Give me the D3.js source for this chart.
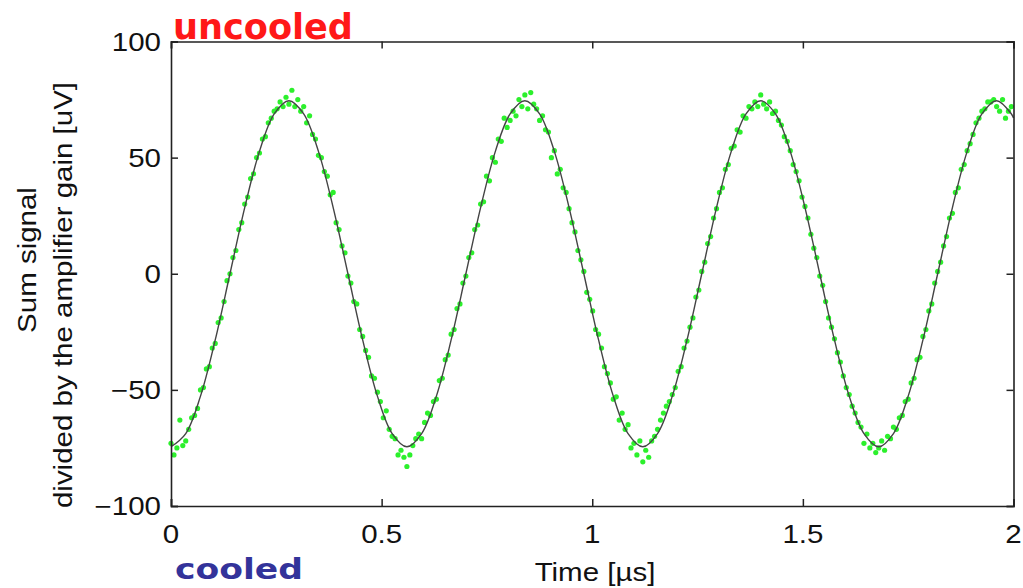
<!DOCTYPE html>
<html><head><meta charset="utf-8">
<script src="https://cdn.jsdelivr.net/npm/d3@7"></script>
<style>body{margin:0;background:#fff}svg{display:block}</style>
</head><body><svg id="c" width="1023" height="588"></svg>
<script>
// ---- data ----
const xTicks = [0, 0.5, 1, 1.5, 2];
const xTickLabels = ["0", "0.5", "1", "1.5", "2"];
const yTicks = [-100, -50, 0, 50, 100];
const yTickLabels = ["\u2212100", "\u221250", "0", "50", "100"];

const fitTime = [0,0.035,0.07,0.105,0.14,0.175,0.21,0.245,0.28,0.315,0.35,0.385,0.42,0.455,0.49,0.525,
0.56,0.595,0.63,0.665,0.7,0.735,0.77,0.805,0.84,0.875,0.91,0.945,0.98,1.015,1.05,1.085,
1.12,1.155,1.19,1.225,1.26,1.295,1.33,1.365,1.4,1.435,1.47,1.505,1.54,1.575,1.61,1.645,
1.68,1.715,1.75,1.785,1.82,1.855,1.89,1.925,1.96,1.995,2.0];
const fitSignal = [-74.5,-68.8,-52.7,-28.5,0,28.5,52.7,68.8,74.5,68.8,52.7,28.5,0,-28.5,-52.7,-68.8,
-74.5,-68.8,-52.7,-28.5,0,28.5,52.7,68.8,74.5,68.8,52.7,28.5,0,-28.5,-52.7,-68.8,
-74.5,-68.8,-52.7,-28.5,0,28.5,52.7,68.8,74.5,68.8,52.7,28.5,0,-28.5,-52.7,-68.8,
-74.5,-68.8,-52.7,-28.5,0,28.5,52.7,68.8,74.5,68.8,67.1];

const dotTime = [0,0.007,0.014,0.021,0.028,0.035,0.042,0.049,0.056,0.063,0.07,0.077,0.084,0.091,0.098,0.105,0.112,0.119,0.126,0.133,
0.14,0.147,0.154,0.161,0.168,0.175,0.182,0.189,0.196,0.203,0.21,0.217,0.224,0.231,0.238,0.245,0.252,0.259,0.266,0.273,
0.28,0.287,0.294,0.301,0.308,0.315,0.322,0.329,0.336,0.343,0.35,0.357,0.364,0.371,0.378,0.385,0.392,0.399,0.406,0.413,
0.42,0.427,0.434,0.441,0.448,0.455,0.462,0.469,0.476,0.483,0.49,0.497,0.504,0.511,0.518,0.525,0.532,0.539,0.546,0.553,
0.56,0.567,0.574,0.581,0.588,0.595,0.602,0.609,0.616,0.623,0.63,0.637,0.644,0.651,0.658,0.665,0.672,0.679,0.686,0.693,
0.7,0.707,0.714,0.721,0.728,0.735,0.742,0.749,0.756,0.763,0.77,0.777,0.784,0.791,0.798,0.805,0.812,0.819,0.826,0.833,
0.84,0.847,0.854,0.861,0.868,0.875,0.882,0.889,0.896,0.903,0.91,0.917,0.924,0.931,0.938,0.945,0.952,0.959,0.966,0.973,
0.98,0.987,0.994,1.001,1.008,1.015,1.022,1.029,1.036,1.043,1.05,1.057,1.064,1.071,1.078,1.085,1.092,1.099,1.106,1.113,
1.12,1.127,1.134,1.141,1.148,1.155,1.162,1.169,1.176,1.183,1.19,1.197,1.204,1.211,1.218,1.225,1.232,1.239,1.246,1.253,
1.26,1.267,1.274,1.281,1.288,1.295,1.302,1.309,1.316,1.323,1.33,1.337,1.344,1.351,1.358,1.365,1.372,1.379,1.386,1.393,
1.4,1.407,1.414,1.421,1.428,1.435,1.442,1.449,1.456,1.463,1.47,1.477,1.484,1.491,1.498,1.505,1.512,1.519,1.526,1.533,
1.54,1.547,1.554,1.561,1.568,1.575,1.582,1.589,1.596,1.603,1.61,1.617,1.624,1.631,1.638,1.645,1.652,1.659,1.666,1.673,
1.68,1.687,1.694,1.701,1.708,1.715,1.722,1.729,1.736,1.743,1.75,1.757,1.764,1.771,1.778,1.785,1.792,1.799,1.806,1.813,
1.82,1.827,1.834,1.841,1.848,1.855,1.862,1.869,1.876,1.883,1.89,1.897,1.904,1.911,1.918,1.925,1.932,1.939,1.946,1.953,
1.96,1.967,1.974,1.981,1.988,1.995];
const dotSignal = [-73,-78,-75,-63,-74,-72,-67,-62,-61,-58,-50,-49,-41,-40,-32,-30,-21,-19,-12,-3,
0,7,10,19,22,30,33,41,43,50,52,58,59,65,67,70,71,74,72,76,
73,79,72,75,70,72,65,68,60,58,51,50,44,42,34,35,22,19,12,9,
-1,-4,-12,-13,-24,-27,-33,-36,-44,-45,-51,-55,-62,-59,-67,-70,-71,-78,-76,-79,
-83,-78,-74,-71,-69,-71,-64,-60,-61,-55,-54,-46,-45,-37,-35,-26,-24,-15,-13,-4,
-1,7,9,19,21,30,31,42,40,50,48,58,57,67,63,66,70,68,75,72,
77,71,78,73,71,66,68,62,61,50,53,43,45,37,35,28,22,18,10,6,
1,-8,-11,-16,-24,-26,-32,-40,-43,-47,-54,-53,-63,-60,-67,-65,-75,-73,-78,-72,
-81,-76,-79,-72,-70,-67,-63,-60,-57,-55,-52,-49,-42,-40,-32,-29,-23,-19,-10,-7,
1,5,13,16,24,28,35,37,45,47,54,55,62,61,68,67,72,71,74,72,
77,73,71,74,69,70,66,64,59,57,53,47,44,40,33,29,24,17,11,7,
-1,-5,-12,-19,-23,-28,-34,-38,-44,-49,-52,-57,-60,-64,-66,-73,-69,-75,-73,-77,
-75,-72,-76,-70,-71,-66,-67,-62,-61,-55,-54,-47,-45,-37,-36,-27,-24,-16,-13,-4,
1,5,12,16,24,26,35,37,45,47,53,56,60,65,67,70,71,74,74,75,
72,70,75,67,70,72];

const xTitle = "Time [\u00b5s]";
const yTitleLines = ["Sum signal", "divided by the amplifier gain [uV]"];
const topNote = "uncooled";
const bottomNote = "cooled";

// ---- chart ----
const svg = d3.select("#c");
const L = 171, R = 1013.5, T = 41.5, B = 506;
const x = d3.scaleLinear().domain([0, 2]).range([L, R]);
const y = d3.scaleLinear().domain([-100, 100]).range([B, T]);
const font = "'Liberation Sans', Arial, sans-serif";
const SX = 1.18;

// dots
const dots = dotTime.map((t, i) => [t, dotSignal[i]]);
svg.append("g").selectAll("circle").data(dots).join("circle")
  .attr("cx", d => x(d[0])).attr("cy", d => y(d[1])).attr("r", 2.6)
  .attr("fill", "#2cf02c");

// fit line
const fit = fitTime.map((t, i) => [t, fitSignal[i]]);
svg.append("path").datum(fit)
  .attr("d", d3.line().x(d => x(d[0])).y(d => y(d[1])).curve(d3.curveCatmullRom.alpha(0.5)))
  .attr("fill", "none").attr("stroke", "#444").attr("stroke-width", 1.4);

// axes with inward ticks, mirrored
const tl = 7;
const axB = d3.axisBottom(x).tickValues(xTicks).tickSize(-tl).tickFormat("");
const axT = d3.axisTop(x).tickValues(xTicks).tickSize(-tl).tickFormat("");
const axL = d3.axisLeft(y).tickValues(yTicks).tickSize(-tl).tickFormat("");
const axR = d3.axisRight(y).tickValues(yTicks).tickSize(-tl).tickFormat("");
[[axB, `translate(0,${B})`], [axT, `translate(0,${T})`], [axL, `translate(${L},0)`], [axR, `translate(${R},0)`]]
  .forEach(([a, tr]) => {
    const g = svg.append("g").attr("transform", tr).call(a);
    g.select(".domain").attr("stroke", "#222").attr("stroke-width", 1.6);
    g.selectAll(".tick line").attr("stroke", "#222").attr("stroke-width", 1.5);
  });

// tick labels
svg.append("g").selectAll("text").data(xTicks).join("text")
  .attr("transform", d => `translate(${x(d)},543) scale(${SX},1)`)
  .attr("text-anchor", "middle").attr("font-family", font).attr("font-size", 25).attr("fill", "#111")
  .text((d, i) => xTickLabels[i]);
svg.append("g").selectAll("text").data(yTicks).join("text")
  .attr("transform", d => `translate(161,${y(d) + 9}) scale(${SX},1)`)
  .attr("text-anchor", "end").attr("font-family", font).attr("font-size", 25).attr("fill", "#111")
  .text((d, i) => yTickLabels[i]);

// titles
svg.append("text").attr("transform", `translate(595,581) scale(${SX},1)`)
  .attr("text-anchor", "middle").attr("font-family", font).attr("font-size", 25).attr("fill", "#111")
  .text(xTitle);
const yTitlePos = [[36, 260], [72, 295]];
yTitleLines.forEach((s, i) => {
  svg.append("text").attr("transform", `translate(${yTitlePos[i][0]},${yTitlePos[i][1]}) rotate(-90) scale(${SX},1)`)
    .attr("text-anchor", "middle").attr("font-family", font).attr("font-size", 25).attr("fill", "#111")
    .text(s);
});

// notes
svg.append("text").attr("x", 173).attr("y", 39)
  .attr("font-family", "'DejaVu Sans', sans-serif").attr("font-weight", "bold").attr("font-size", 36)
  .attr("textLength", 180).attr("lengthAdjust", "spacingAndGlyphs")
  .attr("fill", "#ff1818").text(topNote);
svg.append("text").attr("x", 175).attr("y", 579)
  .attr("font-family", "'DejaVu Sans', sans-serif").attr("font-weight", "bold").attr("font-size", 29)
  .attr("textLength", 128).attr("lengthAdjust", "spacingAndGlyphs")
  .attr("fill", "#33339a").text(bottomNote);
</script></body></html>
